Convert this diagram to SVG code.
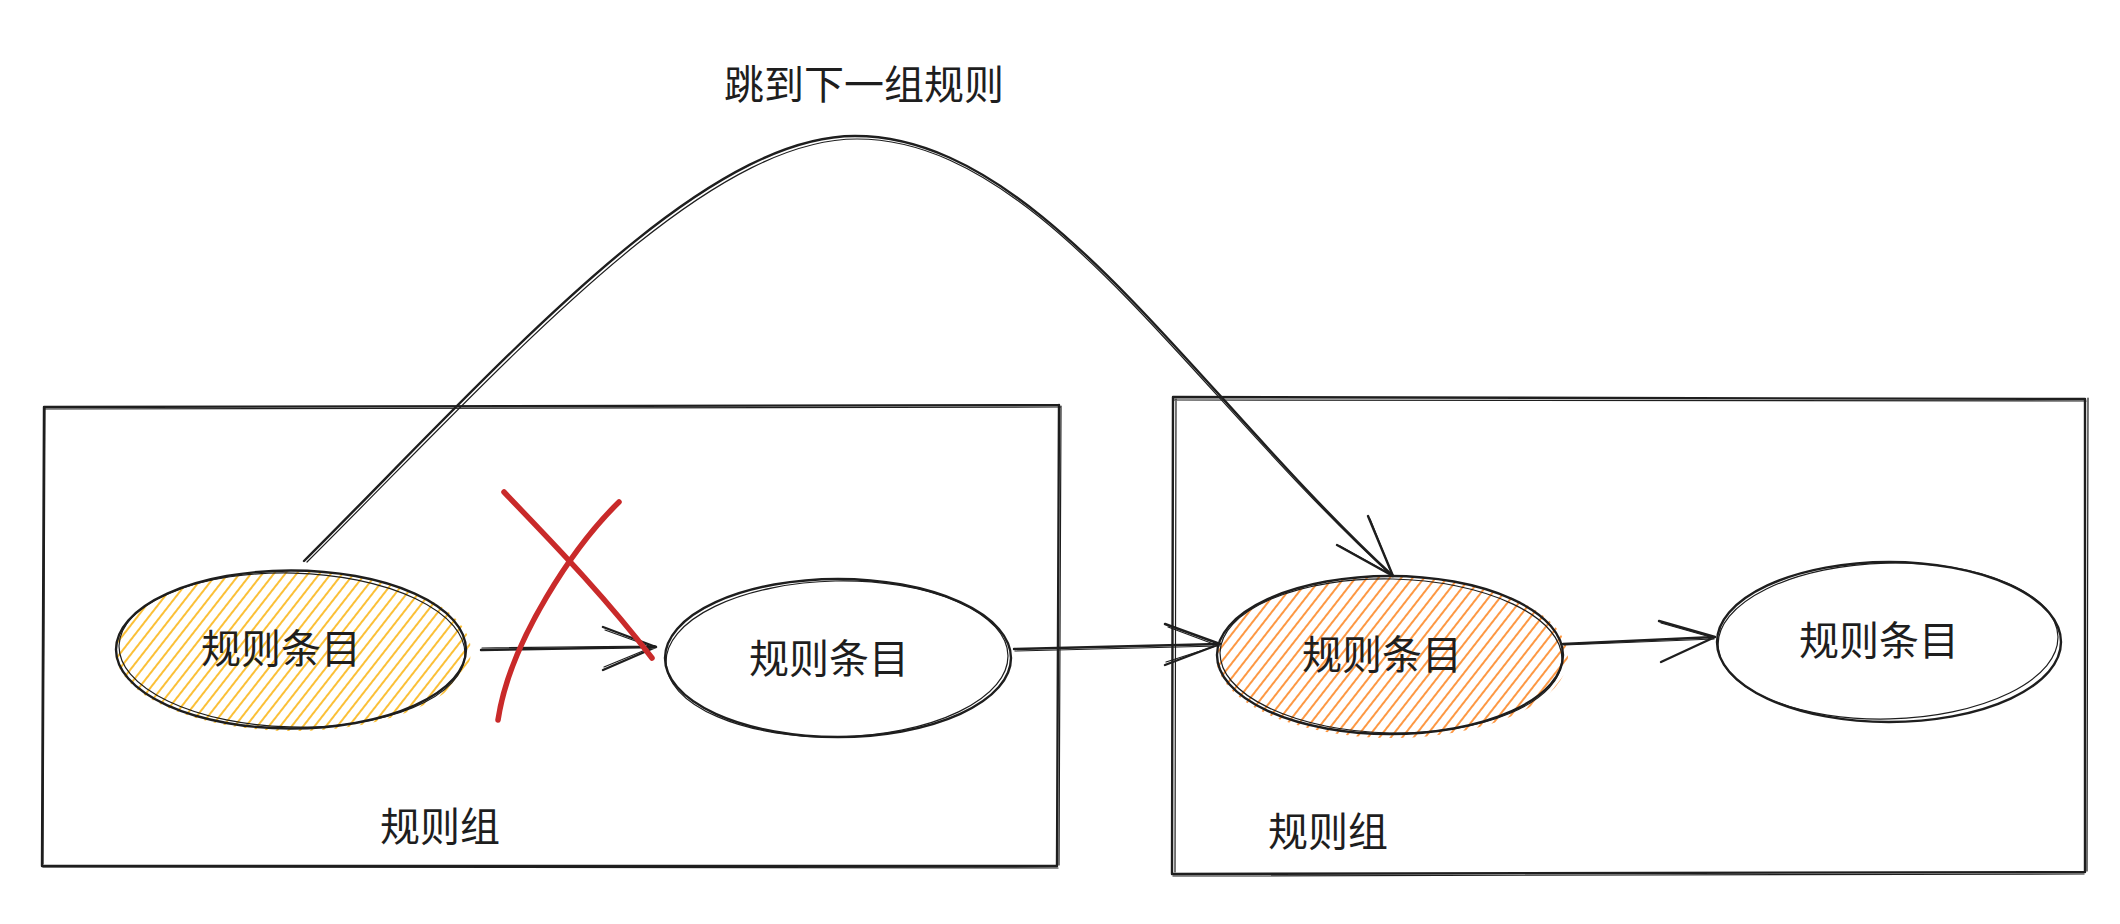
<svg xmlns="http://www.w3.org/2000/svg" width="2120" height="924" viewBox="0 0 2120 924">
  <style>
    .ink{fill:none;stroke:#1e1e1e;stroke-linecap:round;stroke-linejoin:round}
    .main{stroke-width:2.4}
    .thin{stroke-width:1.2}
    .txt{font-family:"Noto Sans CJK SC","Noto Sans",sans-serif;font-size:40px;fill:#1e1e1e;text-anchor:middle}
    .red{fill:none;stroke:#c92a2a;stroke-width:5.5;stroke-linecap:round}
  </style>
  <defs>
    <pattern id="hatchY" width="9" height="9" patternUnits="userSpaceOnUse" patternTransform="rotate(38)">
      <line x1="2" y1="0" x2="2" y2="9" stroke="#fab005" stroke-width="1.6"/>
    </pattern>
    <pattern id="hatchO" width="9" height="9" patternUnits="userSpaceOnUse" patternTransform="rotate(38)">
      <line x1="2" y1="0" x2="2" y2="9" stroke="#fd7e14" stroke-width="1.6"/>
    </pattern>
  </defs>
  <rect width="2120" height="924" fill="#ffffff"/>

  <g id="title">
    <text class="txt" x="864" y="99">跳到下一组规则</text>
  </g>

  <g id="group-left">
    <path class="ink main" d="M44,407 L1059,405 M1059,405 L1057,866 M1057,866 L42,866 M42,866 L44,407"/>
    <path class="ink thin" d="M45,409 L1060,407 M1061,406 L1059,865 M1058,868 L43,867 M43,864 L45,408"/>
    <text class="txt" x="440" y="841">规则组</text>
  </g>

  <g id="group-right">
    <path class="ink main" d="M1173,397 L2085,399 M2085,399 L2085,872 M2085,872 L1172,874 M1172,874 L1173,397"/>
    <path class="ink thin" d="M1174,400 L2086,401 M2088,398 L2087,871 M2084,874 L1173,876 M1175,872 L1176,399"/>
    <text class="txt" x="1328" y="846">规则组</text>
  </g>

  <g id="rule1">
    <ellipse cx="293" cy="651" rx="178" ry="80" fill="url(#hatchY)" stroke="none"/>
    <ellipse class="ink main" cx="291" cy="649.5" rx="175" ry="79"/>
    <ellipse class="ink thin" cx="292" cy="650" rx="173" ry="77" transform="rotate(1.5 292 650)"/>
    <text class="txt" x="281" y="663">规则条目</text>
  </g>

  <g id="rule2">
    <ellipse class="ink main" cx="838" cy="658" rx="173" ry="79"/>
    <ellipse class="ink thin" cx="837" cy="659" rx="171" ry="78" transform="rotate(-1.2 837 659)"/>
    <text class="txt" x="829" y="673">规则条目</text>
  </g>

  <g id="rule3">
    <ellipse cx="1392" cy="657" rx="176" ry="81" fill="url(#hatchO)" stroke="none"/>
    <ellipse class="ink main" cx="1390" cy="655" rx="173" ry="79"/>
    <ellipse class="ink thin" cx="1391" cy="656" rx="171" ry="77" transform="rotate(1.2 1391 656)"/>
    <text class="txt" x="1382" y="669">规则条目</text>
  </g>

  <g id="rule4">
    <ellipse class="ink main" cx="1889" cy="642" rx="172" ry="80"/>
    <ellipse class="ink thin" cx="1888" cy="641" rx="170" ry="78" transform="rotate(-1.5 1888 641)"/>
    <text class="txt" x="1879" y="655">规则条目</text>
  </g>

  <g id="connectors">
    <path class="ink main" d="M481,650 L656,647 M603,627 L656,647 M603,670 L656,647"/>
    <path class="ink thin" d="M482,648 L655,646 M605,630 L655,648 M604,667 L655,646"/>
    <path class="ink main" d="M1014,649 L1220,644 M1165,624 L1220,644 M1165,665 L1220,644"/>
    <path class="ink thin" d="M1015,651 L1219,646 M1168,627 L1219,646 M1166,662 L1219,645"/>
    <path class="ink main" d="M1563,644 L1715,637 M1659,621 L1715,637 M1661,662 L1715,637"/>
    <path class="ink thin" d="M1564,645 L1714,639 M1661,623 L1714,638"/>
    <path class="ink main" d="M304,561 C504,361 700,136 855,136 C1040,136 1191,389 1393,576"/>
    <path class="ink thin" d="M307,562 C506,364 702,139 857,139 C1040,139 1189,391 1391,575"/>
    <path class="ink main" d="M1368,516 L1393,576 M1337,545 L1393,576"/>
    <path class="ink thin" d="M1370,519 L1392,574 M1340,546 L1392,575"/>
  </g>

  <g id="cross">
    <path class="red" d="M504,492 C540,530 600,590 652,658"/>
    <path class="red" d="M619,502 C575,545 510,640 498,720"/>
  </g>
</svg>
